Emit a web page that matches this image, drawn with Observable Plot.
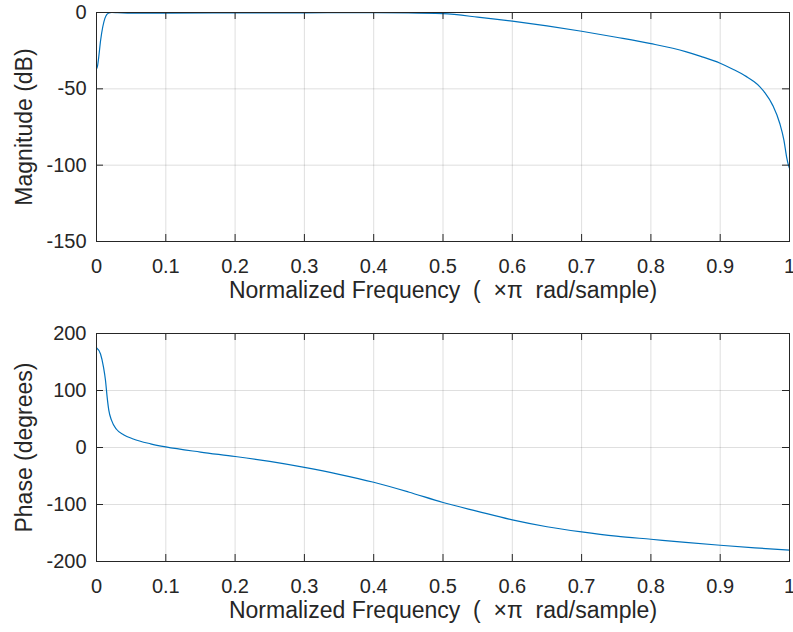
<!DOCTYPE html>
<html>
<head>
<meta charset="utf-8">
<script src="https://cdn.jsdelivr.net/npm/d3@7"></script>
<script src="https://cdn.jsdelivr.net/npm/@observablehq/plot@0.6"></script>
<style>
  html, body { margin: 0; padding: 0; background: #fff; }
  #chart { width: 793px; height: 632px; }
  #chart svg { display: block; overflow: visible; }
</style>
</head>
<body>
<div id="chart"></div>
<script>
// ---- Data ----
const magFreq = [0, 0.0015, 0.003, 0.006, 0.009, 0.012, 0.015, 0.018, 0.022, 0.03, 0.05, 0.1, 0.2, 0.3, 0.4, 0.45, 0.5, 0.55, 0.6, 0.65, 0.7, 0.75, 0.8, 0.85, 0.872, 0.9, 0.919, 0.938, 0.948, 0.957, 0.964, 0.976, 0.986, 0.992, 0.996, 0.9985, 1];
const magDb   = [-37, -35, -30, -18, -9.5, -4, -1.2, -0.3, 0, -0.1, -0.4, -0.4, -0.3, -0.2, -0.1, -0.2, -0.8, -3, -5.7, -8.8, -12.3, -16.2, -20.4, -25.6, -28.7, -33.2, -37.3, -42, -45, -48.5, -52.3, -61, -72.7, -83.7, -95, -100, -102];

const phaseFreq = [0, 0.0058, 0.0101, 0.013, 0.0154, 0.0178, 0.0216, 0.0288, 0.039, 0.053, 0.078, 0.1, 0.15, 0.2, 0.25, 0.3, 0.35, 0.4, 0.45, 0.5, 0.55, 0.6, 0.65, 0.7, 0.75, 0.8, 0.85, 0.9, 0.95, 1];
const phaseDeg  = [175, 164, 141, 117.5, 88, 65, 48, 32, 22.5, 15, 6.5, 1, -8, -15.8, -24.5, -35, -47, -61, -78, -96.5, -112, -127, -139, -148, -155.5, -161, -166.5, -171.5, -176, -180];

const xTicks = [0, 0.1, 0.2, 0.3, 0.4, 0.5, 0.6, 0.7, 0.8, 0.9, 1];
const magTicks = [-150, -100, -50, 0];
const phaseTicks = [-200, -100, 0, 100, 200];
const xLabel = "Normalized Frequency  (  ×π  rad/sample)";
const magLabel = "Magnitude (dB)";
const phaseLabel = "Phase (degrees)";

// ---- Build ----
const W = 793;
const ink = "#262626";
const lineColor = "#0072BD";
const fmtX = d => (d === 0 ? "0" : d === 1 ? "1" : d.toFixed(1));

function panel({data, yDomain, yTicks, yLabel, marginTop, marginBottom, height}) {
  const frameW = W - 96 - 4;
  const frameH = height - marginTop - marginBottom;
  const tl = 7;
  return Plot.plot({
    width: W,
    height,
    marginLeft: 96,
    marginRight: 4,
    marginTop,
    marginBottom,
    style: {fontFamily: "'Liberation Sans', Arial, Helvetica, sans-serif", fontSize: "20px", color: ink, background: "#fff", overflow: "visible"},
    x: {domain: [0, 1]},
    y: {domain: yDomain},
    marks: [
      Plot.gridX(xTicks, {stroke: ink, strokeOpacity: 0.15}),
      Plot.gridY(yTicks, {stroke: ink, strokeOpacity: 0.15}),
      Plot.line(data, {x: "f", y: "v", stroke: lineColor, strokeWidth: 1.2, curve: "monotone-x"}),
      // inside ticks on all four sides
      Plot.tickX(xTicks, {x: d => d, stroke: ink, insetTop: frameH - tl}),
      Plot.tickX(xTicks, {x: d => d, stroke: ink, insetBottom: frameH - tl}),
      Plot.tickY(yTicks, {y: d => d, stroke: ink, insetRight: frameW - tl}),
      Plot.tickY(yTicks, {y: d => d, stroke: ink, insetLeft: frameW - tl}),
      Plot.frame({stroke: ink, strokeWidth: 1}),
      Plot.axisX(xTicks, {tickSize: 0, tickPadding: 17, tickFormat: fmtX, label: null, fill: ink}),
      Plot.axisY(yTicks, {tickSize: 0, tickPadding: 10, tickFormat: d => String(d), label: null, fill: ink}),
      Plot.text([xLabel], {text: d => d, frameAnchor: "bottom", dy: 56, fontSize: 23, fill: ink}),
      Plot.text([yLabel], {text: d => d, frameAnchor: "left", textAnchor: "middle", dx: -72, rotate: -90, fontSize: 23, fill: ink})
    ]
  });
}

const magData = magFreq.map((f, i) => ({f, v: magDb[i]}));
const phaseData = phaseFreq.map((f, i) => ({f, v: phaseDeg[i]}));

const chart = document.getElementById("chart");
chart.append(panel({data: magData, yDomain: [-150, 0], yTicks: magTicks, yLabel: magLabel, marginTop: 12, marginBottom: 75, height: 316}));
chart.append(panel({data: phaseData, yDomain: [-200, 200], yTicks: phaseTicks, yLabel: phaseLabel, marginTop: 17, marginBottom: 71, height: 316}));
</script>
</body>
</html>
